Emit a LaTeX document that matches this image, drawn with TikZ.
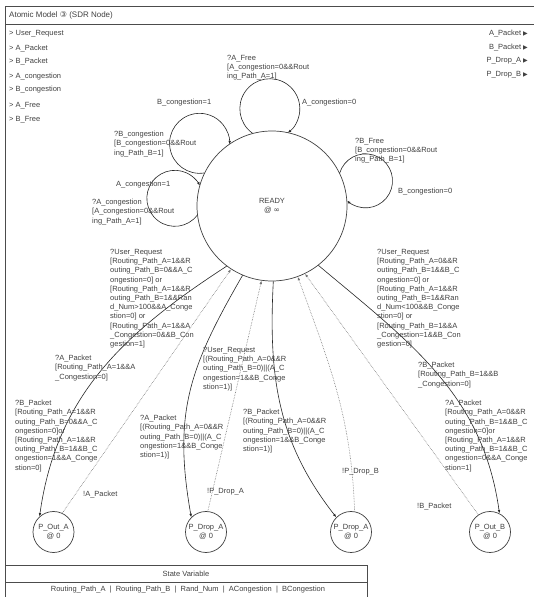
\documentclass[tikz,border=0pt]{standalone}
\usepackage{fontspec}
\setmainfont{Liberation Sans}
\newfontfamily\symfont{DejaVu Sans}
\usetikzlibrary{arrows.meta}

\begin{document}
\begin{tikzpicture}[x=1pt, y=1pt,
    txt/.style={font=\fontsize{7.5}{9.2}\selectfont, text=black!75, inner sep=0pt},
    lbl/.style={txt, align=left, anchor=north west},
    state/.style={circle, draw=black!75, line width=0.7pt, txt, align=center, inner sep=0pt},
    trans/.style={draw=black!85, line width=0.6pt, -{Latex[length=3.5pt,width=2.6pt]}},
    back/.style={draw=black!55, densely dotted, line width=0.6pt, -{Latex[length=3.5pt,width=2.6pt]}},
    frame/.style={draw=black!70, line width=0.6pt}]
    \useasboundingbox (0,0) rectangle (534,597);
    % Frame and title bar
    \draw[frame] (5,0) -- (5,590.5) -- (534,590.5);
    \draw[frame] (5,573) -- (534,573);
    \node[txt, anchor=west, font=\fontsize{8}{9.2}\selectfont] (title) at (9,582) {Atomic Model {\symfont ③} (SDR Node)};
    % Ports
    \foreach \name/\y [count=\i] in {User\_Request/563.7, A\_Packet/548.7, B\_Packet/535.3,
        A\_congestion/520.3, B\_congestion/507, A\_Free/491, B\_Free/477.7}
        \node[txt, anchor=west] (in\i) at (9,\y) {> \name};
    \foreach \name/\y [count=\i] in {A\_Packet/563.7, B\_Packet/549.3, P\_Drop\_A/536, P\_Drop\_B/522}
        \node[txt, anchor=east] (out\i) at (528,\y) {\name~{\symfont\fontsize{6}{6}\selectfont ▶}};
    % States
    \node[state, minimum size=150pt] (ready) at (272,391) {READY\\@ {\symfont ∞}};
    \node[state, minimum size=41pt] (out_a) at (53.5,65) {P\_Out\_A\\@ 0};
    \node[state, minimum size=41pt] (drop_a) at (206,65) {P\_Drop\_A\\@ 0};
    \node[state, minimum size=41pt] (drop_b) at (351,65) {P\_Drop\_A\\@ 0};
    \node[state, minimum size=41pt] (out_b) at (490,65) {P\_Out\_B\\@ 0};
    % Self loops on READY
    \draw[trans] (ready.105) arc[start angle=234.7, end angle=-53.3, radius=30pt];
    \draw[trans] (ready.154) arc[start angle=279, end angle=-2, radius=30pt];
    \draw[trans] (ready.187) arc[start angle=-37, end angle=-333, radius=28pt];
    \draw[trans] (ready.26) arc[start angle=163, end angle=-133, radius=27pt];
    \node[lbl] (l_afree) at (227,542) {?A\_Free\\{[}A\_congestion=0\&\&Rout\\ing\_Path\_A=1]};
    \node[txt, anchor=west] (u_afree) at (302,494) {A\_congestion=0};
    \node[txt, anchor=west] (u_bcong) at (157,494) {B\_congestion=1};
    \node[lbl] (l_bcong) at (114,466) {?B\_congestion\\{[}B\_congestion=0\&\&Rout\\ing\_Path\_B=1]};
    \node[txt, anchor=west] (u_acong) at (116,412) {A\_congestion=1};
    \node[lbl] (l_acong) at (92,398) {?A\_congestion\\{[}A\_congestion=0\&\&Rout\\ing\_Path\_A=1]};
    \node[lbl] (l_bfree) at (355,459) {?B\_Free\\{[}B\_congestion=0\&\&Rout\\ing\_Path\_B=1]};
    \node[txt, anchor=west] (u_bfree) at (398,405) {B\_congestion=0};
    % Transitions out of READY
    \draw[trans] (ready.233) to[out=213, in=82] (out_a.132);
    \draw[trans] (ready.247) to[out=240, in=100, looseness=1.1] (drop_a.135);
    \draw[trans] (ready.271) to[out=267, in=128] (drop_b.135);
    \draw[trans] (ready.308) to[out=-40, in=98] (out_b.63);
    % Transitions back to READY
    \draw[back] (out_a.65) -- (ready.237);
    \draw[back] (drop_a.85) -- (ready.262);
    \draw[back] (drop_b.80) to[out=92, in=290] (ready.290);
    \draw[back] (out_b.124) -- (ready.296);
    % Guards
    \node[lbl] (g_user_l) at (110,348) {?User\_Request\\{[}Routing\_Path\_A=1\&\&R\\outing\_Path\_B=0\&\&A\_C\\ongestion=0] or\\{[}Routing\_Path\_A=1\&\&R\\outing\_Path\_B=1\&\&Ran\\d\_Num>100\&\&A\_Conge\\stion=0] or\\{[}Routing\_Path\_A=1\&\&A\\\_Congestion=0\&\&B\_Con\\gestion=1]};
    \node[lbl] (g_user_r) at (377,348) {?User\_Request\\{[}Routing\_Path\_A=0\&\&R\\outing\_Path\_B=1\&\&B\_C\\ongestion=0] or\\{[}Routing\_Path\_A=1\&\&R\\outing\_Path\_B=1\&\&Ran\\d\_Num<100\&\&B\_Conge\\stion=0] or\\{[}Routing\_Path\_B=1\&\&A\\\_Congestion=1\&\&B\_Con\\gestion=0]};
    \node[lbl] (g_apkt_l) at (55,242) {?A\_Packet\\{[}Routing\_Path\_A=1\&\&A\\\_Congestion=0]};
    \node[lbl] (g_bpkt_r) at (418,235) {?B\_Packet\\{[}Routing\_Path\_B=1\&\&B\\\_Congestion=0]};
    \node[lbl] (g_user_m) at (203,250) {?User\_Request\\{[}(Routing\_Path\_A=0\&\&R\\outing\_Path\_B=0)||(A\_C\\ongestion=1\&\&B\_Conge\\stion=1)]};
    \node[lbl] (g_bpkt_l) at (15,197) {?B\_Packet\\{[}Routing\_Path\_A=1\&\&R\\outing\_Path\_B=0\&\&A\_C\\ongestion=0]or\\{[}Routing\_Path\_A=1\&\&R\\outing\_Path\_B=1\&\&B\_C\\ongestion=1\&\&A\_Conge\\stion=0]};
    \node[lbl] (g_apkt_m) at (140,182) {?A\_Packet\\{[}(Routing\_Path\_A=0\&\&R\\outing\_Path\_B=0)||(A\_C\\ongestion=1\&\&B\_Conge\\stion=1)]};
    \node[lbl] (g_bpkt_m) at (243,188) {?B\_Packet\\{[}(Routing\_Path\_A=0\&\&R\\outing\_Path\_B=0)||(A\_C\\ongestion=1\&\&B\_Conge\\stion=1)]};
    \node[lbl] (g_apkt_r) at (445,197) {?A\_Packet\\{[}Routing\_Path\_A=0\&\&R\\outing\_Path\_B=1\&\&B\_C\\ongestion=0]or\\{[}Routing\_Path\_A=1\&\&R\\outing\_Path\_B=1\&\&B\_C\\ongestion=0\&\&A\_Conge\\stion=1]};
    % Outputs
    \node[txt, anchor=west] (o_apkt) at (83,102) {!A\_Packet};
    \node[txt, anchor=west] (o_dropa) at (207,105) {!P\_Drop\_A};
    \node[txt, anchor=west] (o_dropb) at (342,125) {!P\_Drop\_B};
    \node[txt, anchor=west] (o_bpkt) at (417,90) {!B\_Packet};
    % State variables
    \draw[frame] (5,32) -- (367,32) -- (367,0);
    \draw[frame] (5,15) -- (367,15);
    \node[txt] (sv_title) at (186,23.5) {State Variable};
    \node[txt] (sv_list) at (188,7) {Routing\_Path\_A \ | \ Routing\_Path\_B \ | \ Rand\_Num \ | \ ACongestion \ | \ BCongestion};
\end{tikzpicture}
\end{document}
